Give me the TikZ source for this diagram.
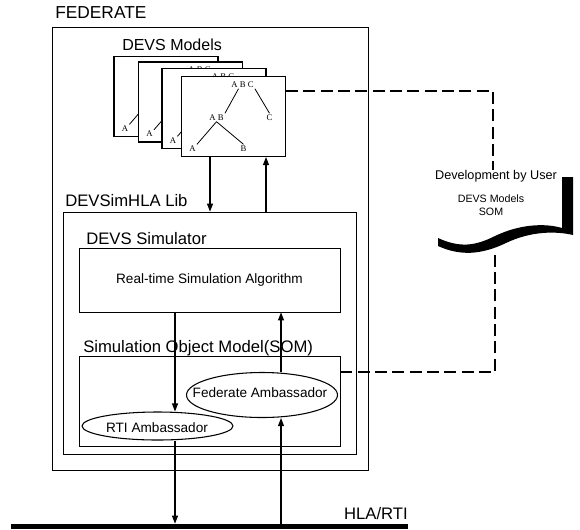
\documentclass[tikz,border=0pt]{standalone}
\usepackage{fontspec}
\setmainfont{Liberation Sans}
\newfontfamily\serifx{Liberation Serif}
\usetikzlibrary{arrows.meta,shapes.geometric}
\begin{document}
\begin{tikzpicture}[x=0.75pt,y=-0.75pt,
  box/.style={draw, line width=0.6pt, inner sep=0pt},
  pagebox/.style={draw, fill=white, line width=0.8pt, minimum width=78pt, minimum height=60pt, inner sep=0pt},
  lbl/.style={font=\fontsize{12.5}{14}\selectfont, anchor=west, inner sep=0pt},
  txt/.style={font=\fontsize{10.2}{12}\selectfont, inner sep=0pt},
  ell/.style={draw, ellipse, line width=0.8pt, inner sep=0pt, minimum width=113.25pt},
  arr/.style={-{Triangle[length=6pt,width=4.5pt]}, line width=0.8pt},
  dashln/.style={line width=2pt, dash pattern=on 9pt off 4pt},
  treetxt/.style={font=\serifx\fontsize{6.5}{7}\selectfont, inner sep=0.8pt},
  treeln/.style={line width=0.6pt}]
\useasboundingbox (0,0) rectangle (580,529);

% outer federate
\node[box, minimum width=237pt, minimum height=332.25pt] (fed) at (210,248.5) {};
\node[lbl, font=\fontsize{13}{15}\selectfont] (fedlbl) at (55,13) {FEDERATE};
\node[lbl, font=\fontsize{12}{14}\selectfont] (modlbl) at (122,45) {DEVS Models};

% stacked pages
\foreach \i/\cx/\cy in {1/166/96.5, 2/190.5/102, 3/214/108.5, 4/233.5/116.5}{
  \node[pagebox] (p\i) at (\cx,\cy) {};
  \node[treetxt] (abc\i) at (\cx+9,\cy-32) {A B C};
  \node[treetxt] (ab\i) at (\cx-17,\cy+1) {A B};
  \node[treetxt] (c\i) at (\cx+36,\cy+1) {C};
  \node[treetxt] (a\i) at (\cx-41,\cy+32) {A};
  \node[treetxt] (b\i) at (\cx+10,\cy+32) {B};
  \draw[treeln] (abc\i.south) ++(-3pt,0) -- (ab\i.north east);
  \draw[treeln] (abc\i.south east) -- (c\i.north);
  \draw[treeln] (ab\i.south) -- (a\i.north east);
  \draw[treeln] (ab\i.south) -- (b\i.north);
}

% DEVSimHLA lib
\node[box, minimum width=219.75pt, minimum height=181.5pt] (lib) at (209.5,333) {};
\node[lbl] (liblbl) at (65,201) {DEVSimHLA Lib};
\node[lbl] (simlbl) at (86,239) {DEVS Simulator};
\node[box, minimum width=195.75pt, minimum height=48pt] (sim) at (209.5,280) {};
\node[txt] (algo) at (209.5,280) {Real-time Simulation Algorithm};
\node[lbl] (somlbl) at (83,348) {Simulation Object Model(SOM)};
\node[box, minimum width=195.75pt, minimum height=67.5pt] (som) at (209.5,401) {};
\node[ell, minimum height=33.75pt] (fa) at (262,395) {};
\node[txt] (fatxt) at (260,393) {Federate Ambassador};
\node[ell, minimum height=21pt] (rti) at (157.5,426) {};
\node[txt] (rtitxt) at (157,428) {RTI Ambassador};

% columns
\coordinate (xa) at (210,0);
\coordinate (xu) at (266,0);
\coordinate (xb) at (175,0);
\coordinate (xc) at (281,0);

% page <-> lib arrows
\draw[arr] (p4.south -| xa) -- (lib.north -| xa);
\draw[arr] (lib.north -| xu) -- (p4.south -| xu);
% sim <-> ambassadors
\draw[arr] (sim.south -| xb) -- (rti.north -| xb);
\draw[arr] (fa.north -| xc) -- (sim.south -| xc);

% HLA/RTI bus
\coordinate (hl) at (11,526);
\coordinate (hr) at (408,526);
\draw[line width=3.75pt] (hl) -- (hr);
\node[anchor=south east, inner sep=0pt, font=\fontsize{12.5}{14}\selectfont] (hla) at (408,520) {HLA/RTI};
\draw[arr, shorten >=1.8pt] (rti.south -| xb) -- (hl -| xb);
\draw[arr, shorten <=1.8pt] (hl -| xc) -- (fa.south -| xc);

% document (development by user)
\fill (562,177) -- (573,177) -- (573,235)
  .. controls (556,231) and (531,231) .. (506,243)
  .. controls (481,255) and (460,256) .. (438,246)
  -- (438,238)
  .. controls (460,248) and (475,246) .. (495,236)
  .. controls (520,224) and (545,223) .. (562,228) -- cycle;
\node[inner sep=0pt, font=\fontsize{9.5}{11}\selectfont] (dev) at (496,176) {Development by User};
\node[inner sep=0pt, font=\fontsize{8}{9.5}\selectfont, align=center] (devsom) at (491,205) {DEVS Models\\SOM};

% dashed links
\coordinate (d1) at (493,91);
\draw[dashln] (p4.east |- d1) -- (d1) -- (d1 |- dev.north);
\coordinate (d2) at (495,372);
\coordinate (d3) at (495,250);
\draw[dashln] (som.east |- d2) -- (d2) -- (d3);
\end{tikzpicture}
\end{document}
